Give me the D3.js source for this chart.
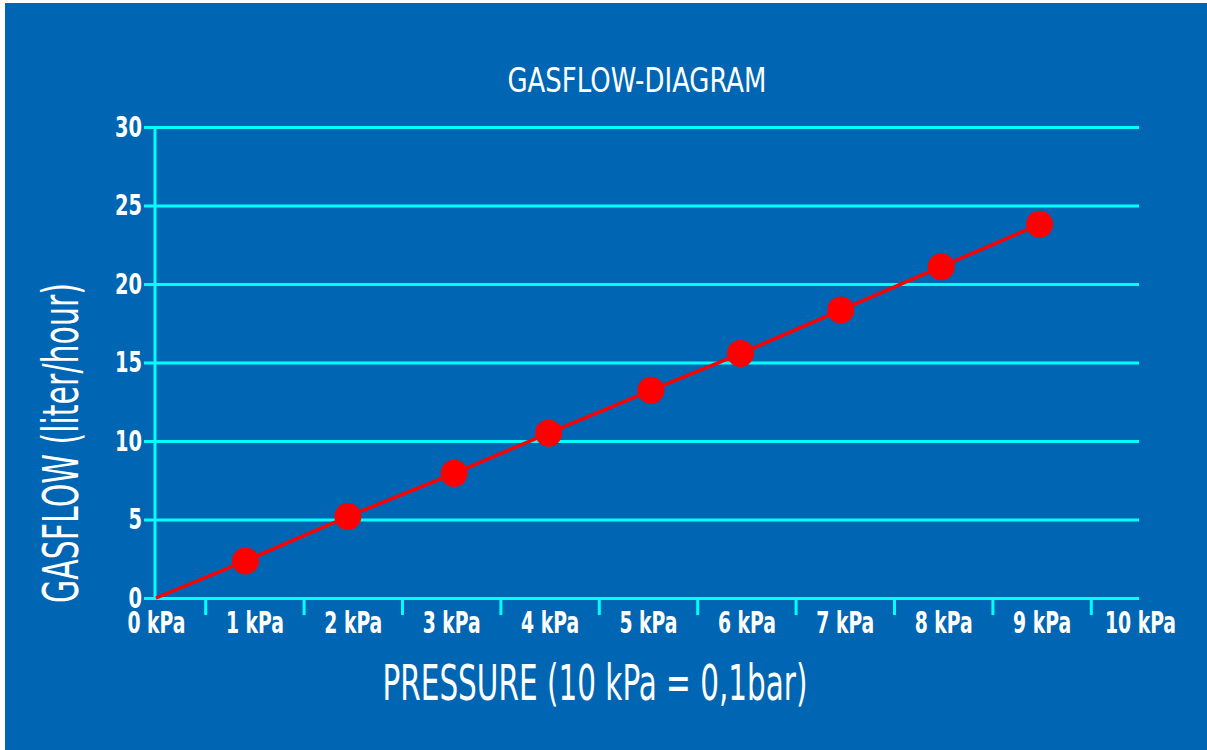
<!DOCTYPE html>
<html>
<head>
<meta charset="utf-8">
<script src="https://cdn.jsdelivr.net/npm/d3@7"></script>
<style>
  html, body { margin: 0; padding: 0; background: #ffffff; }
  svg { display: block; }
  text { font-family: 'DejaVu Sans Condensed', 'Liberation Sans Narrow', sans-serif; fill: #ffffff; }
</style>
</head>
<body>
<div id="app"></div>
<script>
/* global d3 */

// Data
const pressure = [0, 0.91, 1.95, 3.03, 3.99, 5.03, 5.94, 6.96, 7.98, 8.98];
const gasflow = [0, 2.36, 5.19, 7.94, 10.5, 13.23, 15.57, 18.34, 21.1, 23.81];
const xTicks = [0, 1, 2, 3, 4, 5, 6, 7, 8, 9, 10];
const xMarks = [0.5, 1.5, 2.5, 3.5, 4.5, 5.5, 6.5, 7.5, 8.5, 9.5];
const yTicks = [0, 5, 10, 15, 20, 25, 30];

const title = 'GASFLOW-DIAGRAM';
const xLabel = 'PRESSURE (10 kPa = 0,1bar)';
const yLabel = 'GASFLOW (liter/hour)';

// Constants
const width = 1207;
const height = 750;
const bg = '#0066b3';
const grid = '#00ffff';
const red = '#ff0000';

const gridLeft = 144;
const gridRight = 1139;

const xScale = d3.scaleLinear().domain([0, 10]).range([156, 1140]);
const yScale = d3.scaleLinear().domain([0, 30]).range([598, 127]);

// squeeze a group of texts by the factor that gives the reference text its width
function squeezeTo(sel, refText, refWidth) {
  let k = 1;
  sel.each(function () {
    if (this.textContent === refText) k = refWidth / this.getComputedTextLength();
  });
  sel.each(function () {
    const w = this.getComputedTextLength();
    d3.select(this)
      .attr('textLength', w * k)
      .attr('lengthAdjust', 'spacingAndGlyphs');
  });
}

const svg = d3.select('#app')
  .append('svg')
  .attr('width', width)
  .attr('height', height);

// Background
svg.append('rect')
  .attr('x', 5)
  .attr('y', 3)
  .attr('width', width - 5)
  .attr('height', height - 3)
  .attr('fill', bg);

// Y axis with gridlines
const yAxis = d3.axisLeft(yScale)
  .tickValues(yTicks)
  .tickSize(-(gridRight - gridLeft))
  .tickPadding(2);
const yG = svg.append('g')
  .attr('class', 'yAxis')
  .attr('transform', `translate(${gridLeft},0)`)
  .call(yAxis);
yG.select('.domain').remove();
yG.selectAll('line')
  .attr('stroke', grid)
  .attr('stroke-width', 3);
yG.selectAll('text')
  .attr('fill', '#fff')
  .style('font-size', '29px')
  .style('font-weight', 'bold');
squeezeTo(yG.selectAll('text'), '30', 27);

// Vertical axis line
svg.append('line')
  .attr('x1', 155)
  .attr('x2', 155)
  .attr('y1', yScale(30))
  .attr('y2', yScale(0) + 1)
  .attr('stroke', grid)
  .attr('stroke-width', 3);

// X tick marks between the labels
const xMarkAxis = d3.axisBottom(xScale)
  .tickValues(xMarks)
  .tickSize(17)
  .tickFormat('');
const xmG = svg.append('g')
  .attr('transform', `translate(0,${yScale(0)})`)
  .call(xMarkAxis);
xmG.select('.domain').remove();
xmG.selectAll('line')
  .attr('stroke', grid)
  .attr('stroke-width', 3);

// X tick labels
const xAxis = d3.axisBottom(xScale)
  .tickValues(xTicks)
  .tickSize(0)
  .tickPadding(14)
  .tickFormat((d) => `${d} kPa`);
const xG = svg.append('g')
  .attr('transform', `translate(0,${yScale(0)})`)
  .call(xAxis);
xG.select('.domain').remove();
xG.selectAll('text')
  .attr('fill', '#fff')
  .style('font-size', '30px')
  .style('font-weight', 'bold');
squeezeTo(xG.selectAll('text'), '0 kPa', 58);

// Line
const line = d3.line()
  .x((d, i) => xScale(pressure[i]))
  .y((d, i) => yScale(gasflow[i]));
svg.append('path')
  .datum(pressure)
  .attr('d', line)
  .attr('fill', 'none')
  .attr('stroke', red)
  .attr('stroke-width', 3.5);

// Markers (none at the origin)
svg.append('g')
  .selectAll('circle')
  .data(pressure.slice(1))
  .join('circle')
  .attr('cx', (d) => xScale(d))
  .attr('cy', (d, i) => yScale(gasflow[i + 1]))
  .attr('r', 13.5)
  .attr('fill', red);

// Labels
svg.append('text')
  .attr('x', 637)
  .attr('y', 92)
  .attr('text-anchor', 'middle')
  .style('font-size', '33px')
  .attr('textLength', 259)
  .attr('lengthAdjust', 'spacingAndGlyphs')
  .text(title);

svg.append('text')
  .attr('x', 595)
  .attr('y', 700)
  .attr('text-anchor', 'middle')
  .style('font-size', '50px')
  .attr('textLength', 425)
  .attr('lengthAdjust', 'spacingAndGlyphs')
  .text(xLabel);

svg.append('text')
  .attr('transform', 'translate(78,443) rotate(-90)')
  .attr('text-anchor', 'middle')
  .style('font-size', '50px')
  .attr('textLength', 320)
  .attr('lengthAdjust', 'spacingAndGlyphs')
  .text(yLabel);
</script>
</body>
</html>
